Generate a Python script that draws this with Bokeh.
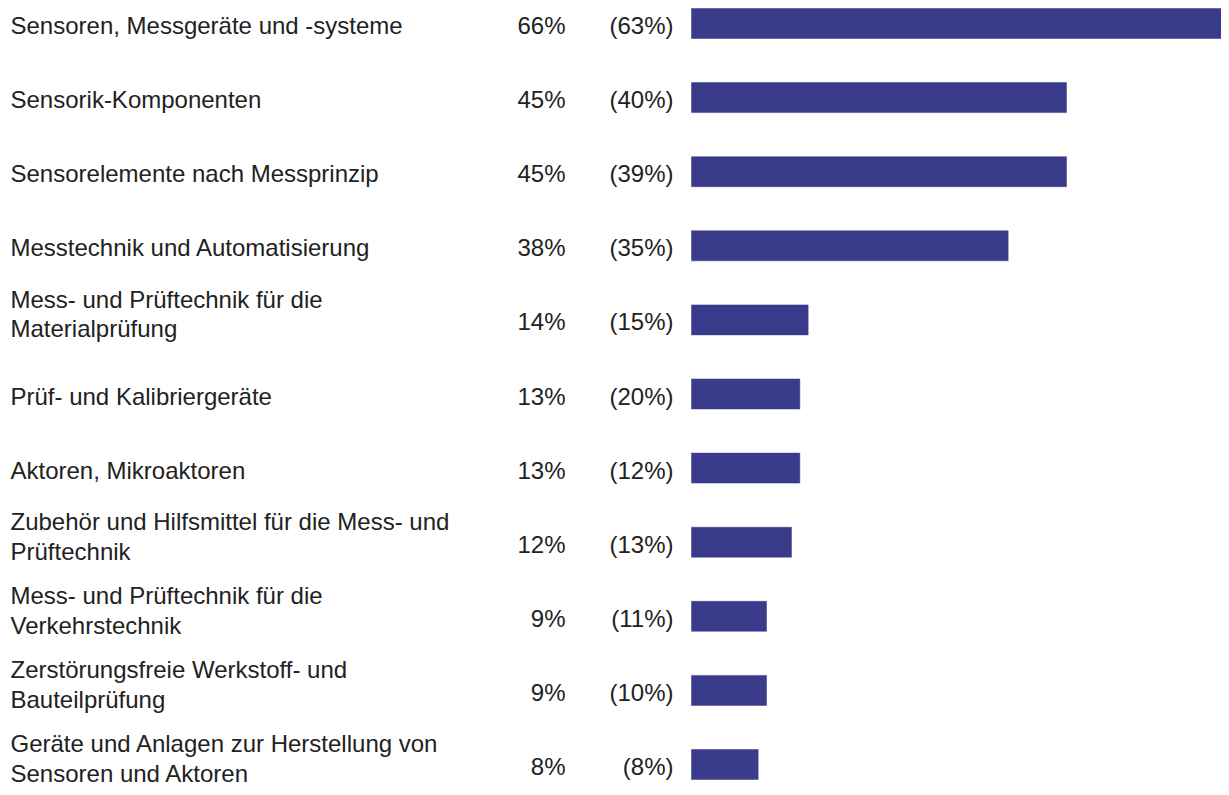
from bokeh.plotting import figure
from bokeh.models import ColumnDataSource, Range1d
from bokeh.core.properties import value
from bokeh.embed import file_html
from bokeh.resources import INLINE

categories = [
    "Sensoren, Messgeräte und -systeme",
    "Sensorik-Komponenten",
    "Sensorelemente nach Messprinzip",
    "Messtechnik und Automatisierung",
    "Mess- und Prüftechnik für die\nMaterialprüfung",
    "Prüf- und Kalibriergeräte",
    "Aktoren, Mikroaktoren",
    "Zubehör und Hilfsmittel für die Mess- und\nPrüftechnik",
    "Mess- und Prüftechnik für die\nVerkehrstechnik",
    "Zerstörungsfreie Werkstoff- und\nBauteilprüfung",
    "Geräte und Anlagen zur Herstellung von\nSensoren und Aktoren",
]
current = [66, 45, 45, 38, 14, 13, 13, 12, 9, 9, 8]
previous = [63, 40, 39, 35, 15, 20, 12, 13, 11, 10, 8]

BAR = "#3A3B8A"
TXT = "#222222"
FONT = "Liberation Sans"

rows = list(range(len(categories)))
src = ColumnDataSource(dict(
    y=rows,
    cat=categories,
    cur=current,
    cur_txt=[f"{v}%" for v in current],
    prev_txt=[f"({v}%)" for v in previous],
    zero=[0] * len(rows),
    left=[-82.92] * len(rows),
    cat_dy=[-6 if "\n" in c else 2 for c in categories],
))

p = figure(width=1221, height=787,
           x_range=Range1d(-82.92, 63.6), y_range=Range1d(10.3104, -0.3104),
           output_backend="svg", toolbar_location=None, min_border=0)
p.axis.visible = False
p.grid.visible = False
p.outline_line_color = None
p.background_fill_color = "white"
p.border_fill_color = "white"

p.hbar(y="y", left="zero", right="cur", height=0.405, source=src,
       fill_color=BAR, line_color=BAR, line_width=0.5)

p.text(x="left", y="y", text="cat", source=src, x_offset=10, y_offset="cat_dy",
       text_font=value(FONT), text_font_size="24px", text_color=TXT,
       text_align="left", text_baseline="middle", text_line_height=1.1)
p.text(x="zero", y="y", text="cur_txt", source=src, x_offset=-126, y_offset=2,
       text_font=value(FONT), text_font_size="24px", text_color=TXT,
       text_align="right", text_baseline="middle")
p.text(x="zero", y="y", text="prev_txt", source=src, x_offset=-18, y_offset=2,
       text_font=value(FONT), text_font_size="24px", text_color=TXT,
       text_align="right", text_baseline="middle")

open("out.html", "w").write(file_html(p, INLINE))
